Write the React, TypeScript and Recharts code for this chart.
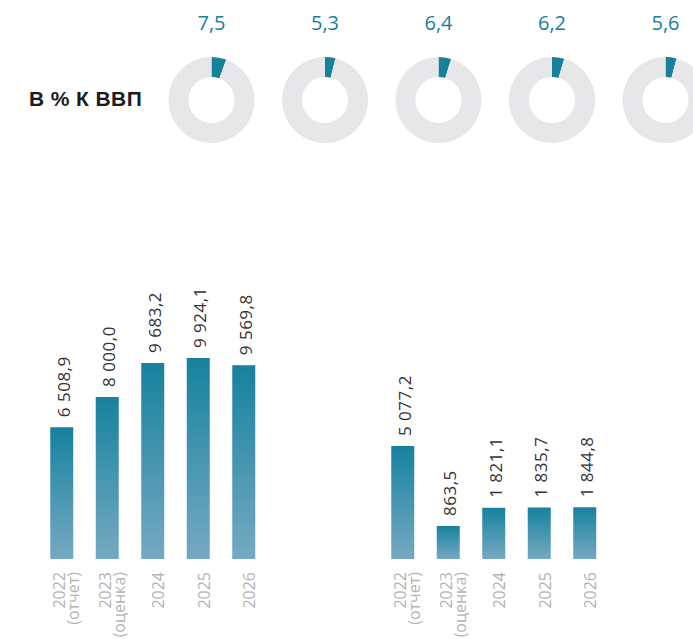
import React from "react";
import { BarChart, Bar, XAxis, YAxis, LabelList, PieChart, Pie, Cell } from "recharts";

// ---- data ----
const categories = ["2022", "2023", "2024", "2025", "2026"];
const categoryNotes = ["(отчет)", "(оценка)", "", "", ""];
const leftValues = [6508.9, 8000.0, 9683.2, 9924.1, 9569.8];
const rightValues = [5077.2, 863.5, 1821.1, 1835.7, 1844.8];
const gdpShares = [7.5, 5.3, 6.4, 6.2, 5.6];
const gdpTitle = "В % К ВВП";

// ---- style / layout constants ----
const TEAL = "#18809b";
const RING_GRAY = "#e7e7e9";
const RING_FULL = 135;
const LEFT_DOMAIN: [number, number] = [0, 10000];
const RIGHT_FLOOR = -875;
const RIGHT_DOMAIN: [number, number] = [RIGHT_FLOOR, 6000];
const FONT = "'Open Sans', sans-serif";

const leftData = categories.map((c, i) => ({ year: c, note: categoryNotes[i], value: leftValues[i] }));
const rightData = categories.map((c, i) => ({ year: c, note: categoryNotes[i], value: rightValues[i] }));

function fmt(v: number, digits = 1): string {
  const s = v.toFixed(digits);
  const [intPart, dec] = s.split(".");
  const withSpaces = intPart.replace(/\B(?=(\d{3})+(?!\d))/g, "\u00a0");
  return dec !== undefined ? `${withSpaces},${dec}` : withSpaces;
}

function YearTick(props: any) {
  const { x, y, payload } = props;
  const idx = categories.indexOf(String(payload.value));
  const note = idx >= 0 ? categoryNotes[idx] : "";
  return (
    <g transform={`translate(${x},${y + 13})`}>
      <text transform="rotate(-90)" textAnchor="end" fontSize={16} fill="#b4b4b4" fontFamily={FONT}>
        {note ? (
          <>
            <tspan x={0} y={3}>{payload.value}</tspan>
            <tspan x={0} y={17}>{note}</tspan>
          </>
        ) : (
          <tspan x={0} y={11}>{payload.value}</tspan>
        )}
      </text>
    </g>
  );
}

function makeValueLabel(values: number[]) {
  return (p: any) => {
    const { x, y, width, index } = p;
    const v = typeof index === "number" ? values[index] : p.value;
    return (
      <text
        transform={`translate(${Number(x) + Number(width) / 2 + 8},${Number(y) - 10}) rotate(-90)`}
        textAnchor="start"
        fontSize={17}
        letterSpacing={0.5}
        fill="#333333"
        fontFamily={FONT}
      >
        {fmt(v)}
      </text>
    );
  };
}

function Gradient({ id }: { id: string }) {
  return (
    <defs>
      <linearGradient id={id} x1="0" y1="0" x2="0" y2="1">
        <stop offset="0%" stopColor="#16829e" />
        <stop offset="100%" stopColor="#76a9c2" />
      </linearGradient>
    </defs>
  );
}

const barMargin = { right: 33.25, bottom: 0, left: 39.25 };

export default function App() {
  const firstCx = 211.5;
  const stepCx = 113.5;
  return (
    <div style={{ position: "absolute", left: 0, top: 0, width: 693, height: 639, background: "#fff", overflow: "hidden" }}>
      <div
        style={{
          position: "absolute",
          left: 29,
          top: 87,
          fontFamily: "'Liberation Sans', Arial, sans-serif",
          fontWeight: 700,
          fontSize: 21,
          letterSpacing: 0.4,
          lineHeight: "24px",
          color: "#1c1c1c",
          whiteSpace: "nowrap",
        }}
      >
        {gdpTitle}
      </div>

      <div style={{ position: "absolute", left: 0, top: 0 }}>
        <PieChart width={693} height={160} margin={{ top: 0, right: 0, bottom: 0, left: 0 }}>
          {gdpShares.map((share, i) => (
            <Pie
              key={i}
              data={[{ v: share }, { v: RING_FULL - share }]}
              dataKey="v"
              cx={firstCx + i * stepCx}
              cy={100}
              innerRadius={23}
              outerRadius={43}
              startAngle={90}
              endAngle={-270}
              stroke="none"
              isAnimationActive={false}
              labelLine={false}
              label={(p: any) =>
                p.index === 0 ? (
                  <text
                    x={p.cx}
                    y={p.cy - 75}
                    textAnchor="middle"
                    dominantBaseline="middle"
                    fontSize={20}
                    fill={TEAL}
                    fontFamily={FONT}
                  >
                    {fmt(share)}
                  </text>
                ) : null
              }
            >
              <Cell fill={TEAL} />
              <Cell fill={RING_GRAY} />
            </Pie>
          ))}
        </PieChart>
      </div>

      <div style={{ position: "absolute", left: 0, top: 0 }}>
        <BarChart width={300} height={639} data={leftData} margin={{ ...barMargin, top: 356.5 }}>
          <Gradient id="gradLeft" />
          <XAxis dataKey="year" height={80} axisLine={false} tickLine={false} tickSize={0} tickMargin={0} interval={0} tick={<YearTick />} />
          <YAxis hide domain={LEFT_DOMAIN} allowDataOverflow />
          <Bar dataKey="value" barSize={23} fill="url(#gradLeft)" isAnimationActive={false}>
            <LabelList dataKey="value" content={makeValueLabel(leftValues)} />
          </Bar>
        </BarChart>
      </div>

      <div style={{ position: "absolute", left: 341, top: 0 }}>
        <BarChart width={300} height={639} data={rightData} margin={{ ...barMargin, top: 428.5 }}>
          <Gradient id="gradRight" />
          <XAxis dataKey="year" height={80} axisLine={false} tickLine={false} tickSize={0} tickMargin={0} interval={0} tick={<YearTick />} />
          <YAxis hide domain={RIGHT_DOMAIN} allowDataOverflow />
          <Bar
            dataKey={(d: any) => [RIGHT_FLOOR, d.value]}
            barSize={23}
            fill="url(#gradRight)"
            isAnimationActive={false}
          >
            <LabelList dataKey="value" content={makeValueLabel(rightValues)} />
          </Bar>
        </BarChart>
      </div>
    </div>
  );
}
